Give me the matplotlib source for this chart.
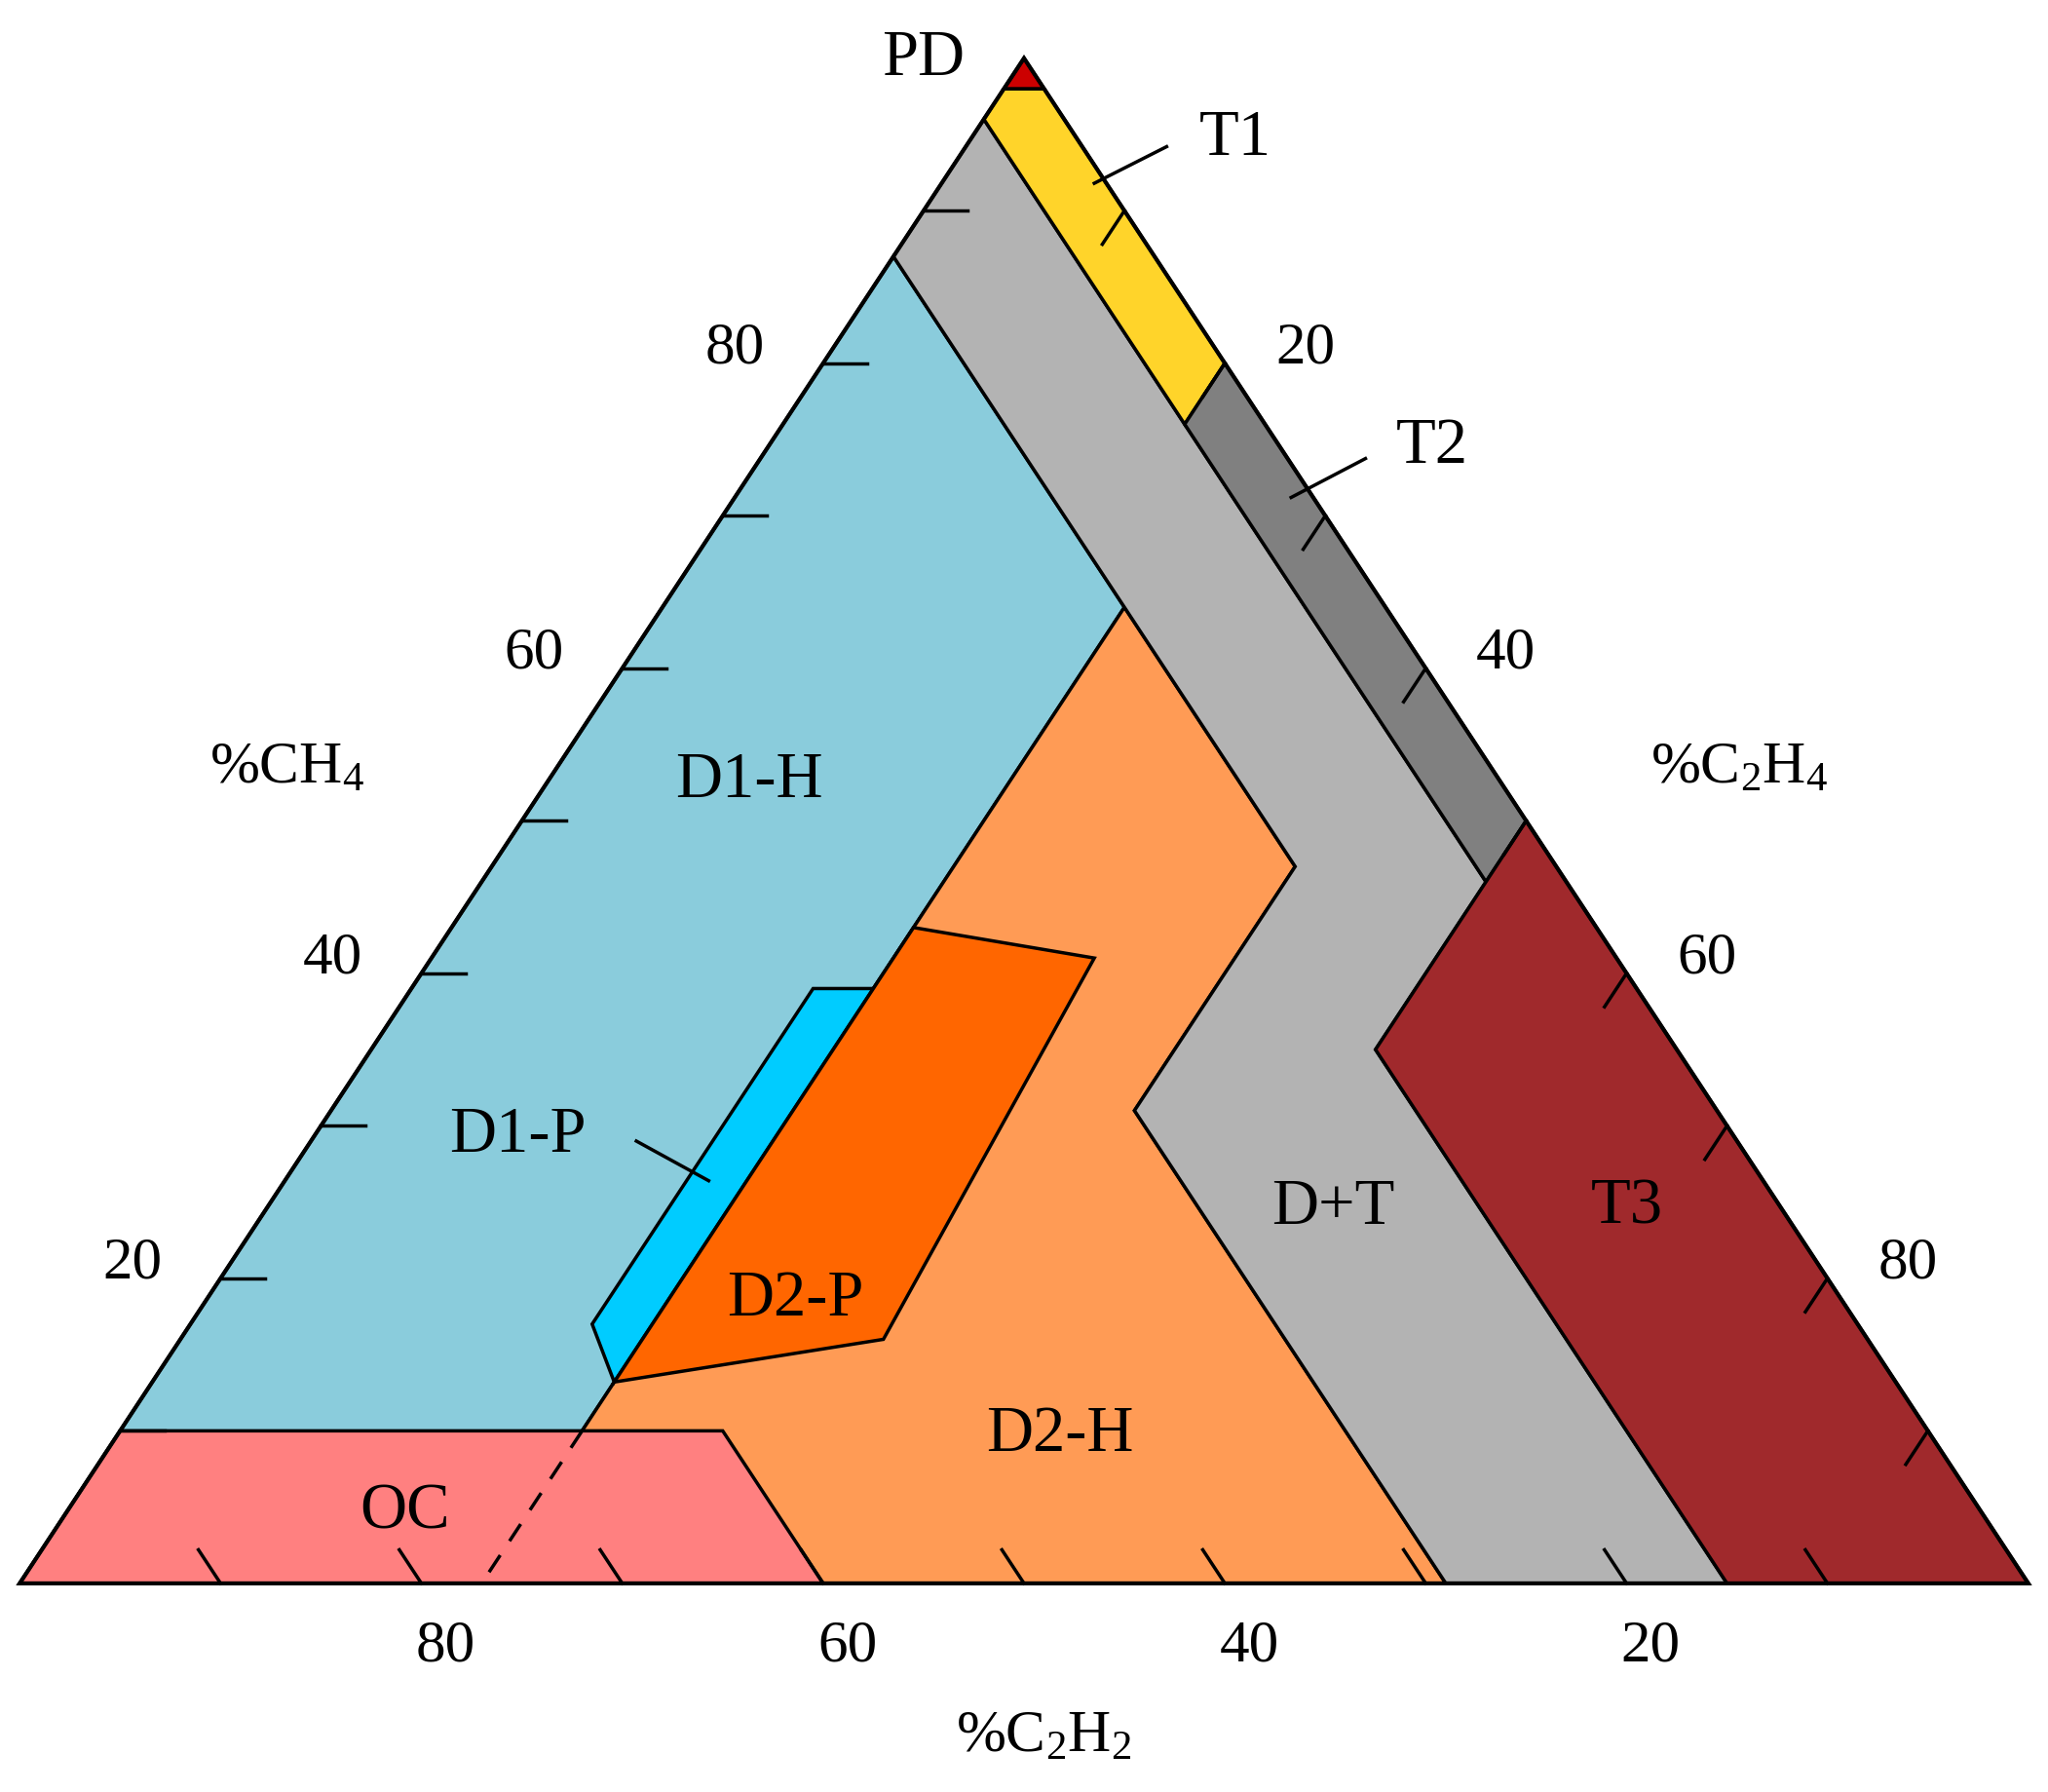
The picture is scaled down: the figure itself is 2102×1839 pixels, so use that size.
import matplotlib
matplotlib.use("Agg")
import matplotlib.pyplot as plt
from matplotlib.patches import Polygon

plt.rcParams['font.family'] = ['Liberation Serif', 'DejaVu Serif']
plt.rcParams['mathtext.fontset'] = 'custom'
plt.rcParams['mathtext.rm'] = 'Liberation Serif'

# zones: list of (CH4, C2H4) percent vertices
zone_names = ["D1-H", "D2-H", "D+T", "T1", "T2", "T3", "PD", "D1-P", "D2-P", "OC"]
zone_colors = ["#8ACCDC", "#FF9B55", "#B3B3B3", "#FFD42A", "#808080", "#A0292C", "#CC0000", "#00CCFF", "#FF6600", "#FF8080"]
zone_vertices = [
    [(87, 0), (64, 23), (0, 23), (0, 0)],
    [(64, 23), (47, 40), (31, 40), (0, 71), (0, 23)],
    [(96, 0), (46, 50), (35, 50), (0, 85), (0, 71), (31, 40), (47, 40), (87, 0)],
    [(96, 0), (98, 0), (98, 2), (80, 20), (76, 20)],
    [(76, 20), (80, 20), (50, 50), (46, 50)],
    [(50, 50), (0, 100), (0, 85), (35, 50), (46, 50)],
    [(100, 0), (98, 0), (98, 2)],
    [(39, 20), (39, 23), (13.2, 23), (17, 20)],
    [(13.2, 23), (43, 23), (41, 33), (16, 35)],
    [(10, 0), (10, 30), (0, 40), (0, 0)],
]
tick_values = [10, 20, 30, 40, 50, 60, 70, 80, 90]
tick_labels = [20, 40, 60, 80]

def tern(ch4, c2h4):
    return (c2h4 + ch4 / 2) / 100.0, ch4 / 100.0

fig = plt.figure(figsize=(21.02, 18.4), dpi=100)
ax = fig.add_axes([0, 0, 1, 1])
ax.set_xlim(-0.0098, 1.0098)
ax.set_ylim(-0.1368, 1.0388)
ax.axis('off')

for name, col, verts in zip(zone_names, zone_colors, zone_vertices):
    ax.add_patch(Polygon([tern(a, b) for a, b in verts], closed=True, fc=col, ec='black', lw=2.5, zorder=2))

# dashed D1/D2 boundary through OC
xs, ys = zip(tern(10, 23), tern(0, 23))
ax.plot(xs, ys, color='black', lw=2.5, ls=(0, (6, 5)), zorder=3)

# outer triangle
ax.add_patch(Polygon([(0, 0), (1, 0), (0.5, 1)], closed=True, fill=False, ec='black', lw=3, zorder=4))

L = 2.2
fs = 44
for v in tick_values:
    # CH4 ticks on left edge (horizontal)
    p = tern(v, 0); q = tern(v, L)
    ax.plot([p[0], q[0]], [p[1], q[1]], color='black', lw=2.5, zorder=4)
    # C2H4 ticks on right edge
    p = tern(100 - v, v); q = tern(100 - v - L, v)
    ax.plot([p[0], q[0]], [p[1], q[1]], color='black', lw=2.5, zorder=4)
    # C2H2 ticks on bottom edge
    c2h4 = 100 - v
    p = tern(0, c2h4); q = tern(L, c2h4 - L)
    ax.plot([p[0], q[0]], [p[1], q[1]], color='black', lw=2.5, zorder=4)

for v in tick_labels:
    x, y = tern(v, 0)
    ax.text(x - 0.044, y + 0.01, str(v), fontsize=fs, ha='center', va='center')
    x, y = tern(100 - v, v)
    ax.text(x + 0.040, y + 0.01, str(v), fontsize=fs, ha='center', va='center')
    x, y = tern(0, 100 - v)
    ax.text(x + 0.012, y - 0.041, str(v), fontsize=fs, ha='center', va='center')

rfs = 48
labels = [("D1-H", 0.363, 0.527), ("D1-P", 0.248, 0.294), ("D2-P", 0.386, 0.187),
          ("D2-H", 0.518, 0.098), ("OC", 0.192, 0.047), ("D+T", 0.654, 0.247),
          ("T3", 0.80, 0.247), ("T1", 0.605, 0.948), ("T2", 0.703, 0.746), ("PD", 0.45, 1.0)]
for t, x, y in labels:
    ax.text(x, y, t, fontsize=rfs, ha='center', va='center', zorder=5)

for (x1, y1, x2, y2) in [(0.307, 0.290, 0.343, 0.264), (0.571, 0.942, 0.535, 0.918), (0.670, 0.7375, 0.633, 0.712)]:
    ax.plot([x1, x2], [y1, y2], color='black', lw=2.5, zorder=5)

ax.text(0.133, 0.535, r'%CH$\mathregular{_4}$', fontsize=fs, ha='center', va='center')
ax.text(0.856, 0.535, r'%C$\mathregular{_2}$H$\mathregular{_4}$', fontsize=fs, ha='center', va='center')
ax.text(0.51, -0.10, r'%C$\mathregular{_2}$H$\mathregular{_2}$', fontsize=fs, ha='center', va='center')

fig.savefig('out.png', dpi=100)
